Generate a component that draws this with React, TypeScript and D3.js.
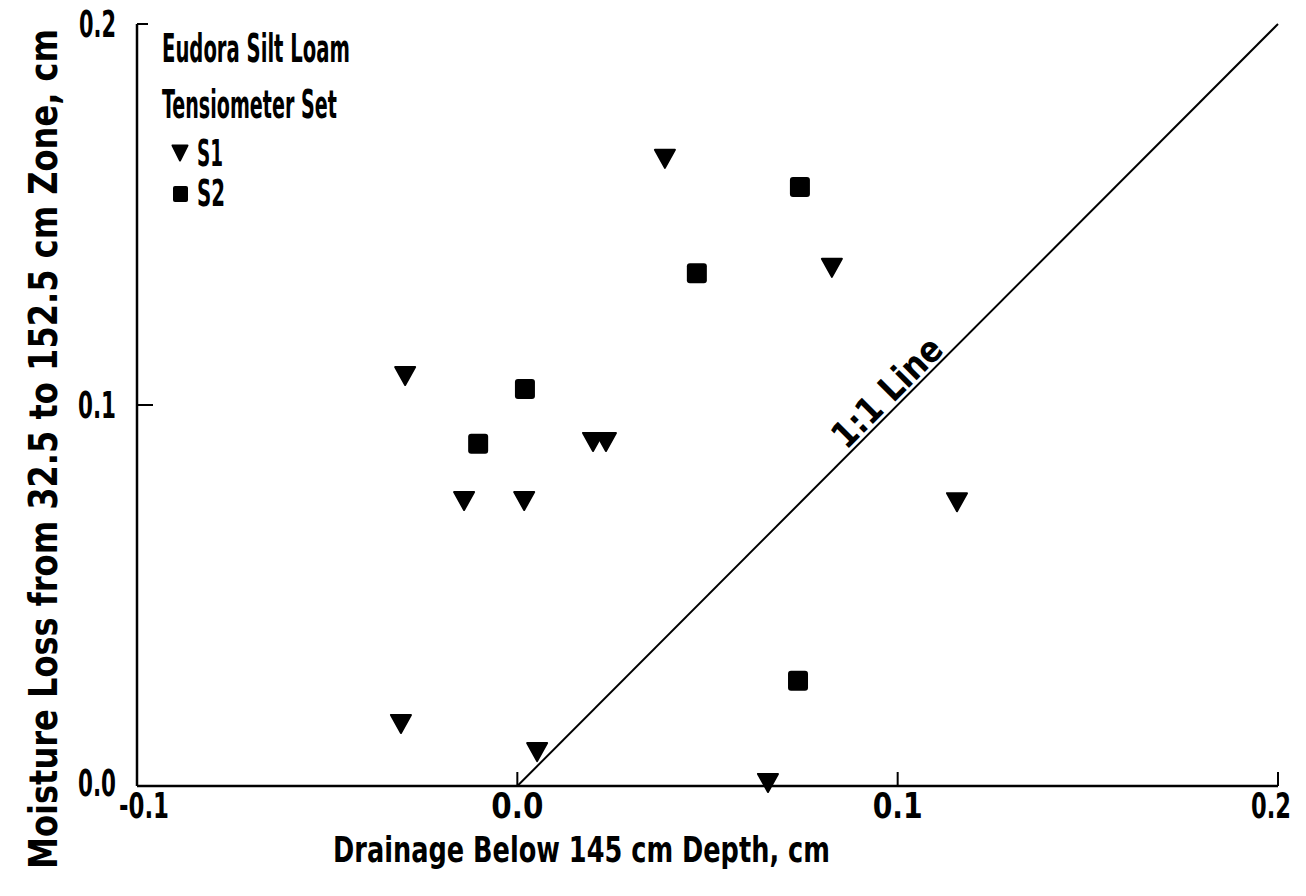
import React, { useLayoutEffect, useRef, useState } from 'react';
import * as d3 from 'd3';

// Data
const s1X = [0.0388, 0.0827, -0.0295, -0.014, 0.0018, 0.0199, 0.0233, 0.1156, -0.0306, 0.0052, 0.0659];
const s1Y = [0.1646, 0.136, 0.1076, 0.0748, 0.0748, 0.0903, 0.0903, 0.0745, 0.0163, 0.0089, 0.0008];
const s2X = [0.0743, 0.0472, 0.002, -0.0103, 0.0738];
const s2Y = [0.1572, 0.1346, 0.1042, 0.0898, 0.0276];
const xTicks = [-0.1, 0.0, 0.1, 0.2];
const xTickLabels = ['-0.1', '0.0', '0.1', '0.2'];
const yTicks = [0.0, 0.1, 0.2];
const yTickLabels = ['0.0', '0.1', '0.2'];
const lineX = [0, 0.2];
const lineY = [0, 0.2];
const legendTitle = ['Eudora Silt Loam', 'Tensiometer Set'];
const seriesNames = ['S1', 'S2'];
const xTitle = 'Drainage Below 145 cm Depth, cm';
const yTitle = 'Moisture Loss from 32.5 to 152.5 cm Zone, cm';
const lineLabel = '1:1 Line';

const W = 1306;
const H = 896;
const FONT = "'DejaVu Sans Condensed', 'DejaVu Sans', 'Liberation Sans', sans-serif";

type FitProps = {
  x: number;
  y: number;
  width: number;
  fontSize: number;
  anchor?: 'start' | 'middle' | 'end';
  rotate?: number;
  children: string;
};

// Text squeezed horizontally to a given width (mimics the condensed typewriter face)
function FitText({ x, y, width, fontSize, anchor = 'start', rotate = 0, children }: FitProps) {
  const ref = useRef<SVGTextElement>(null);
  const [sx, setSx] = useState(0.6);
  useLayoutEffect(() => {
    if (ref.current) {
      const n = ref.current.getComputedTextLength();
      if (n > 0) setSx(width / n);
    }
  }, [width, fontSize, children]);
  return (
    <text
      ref={ref}
      transform={`translate(${x},${y}) rotate(${rotate}) scale(${sx},1)`}
      fontSize={fontSize}
      textAnchor={anchor}
      fontFamily={FONT}
      fontWeight={700}
      fill="#000"
    >
      {children}
    </text>
  );
}

export default function App() {
  const x = d3.scaleLinear().domain([-0.1, 0.2]).range([137, 1278]);
  const y = d3.scaleLinear().domain([0, 0.2]).range([786, 24]);

  const tri = (w: number, h: number) => `M${-w / 2},${-h / 2}L${w / 2},${-h / 2}L0,${h / 2}Z`;
  const line = d3.line<number>().x((_, i) => x(lineX[i])).y((_, i) => y(lineY[i]));

  const labelX = x(0.1) - 2;
  const labelY = y(0.1) - 4;

  const xTickW = [50, 52, 50, 40];
  const xTickCx = [x(-0.1) + 7, x(0), x(0.1), x(0.2) - 7];
  const yTickW = [38, 38, 37];

  return (
    <div style={{ position: 'absolute', left: 0, top: 0 }}>
      <svg width={W} height={H} viewBox={`0 0 ${W} ${H}`} style={{ display: 'block', background: '#fff' }}>
        <rect x={0} y={0} width={W} height={H} fill="#fff" />
        {/* axes */}
        <line x1={x(-0.1)} y1={y(0)} x2={x(0.2)} y2={y(0)} stroke="#000" strokeWidth={2.5} />
        <line x1={x(-0.1)} y1={y(0)} x2={x(-0.1)} y2={y(0.2)} stroke="#000" strokeWidth={2.5} />
        {/* x ticks (upward) */}
        {xTicks.slice(1).map((t) => (
          <line key={'xt' + t} x1={x(t)} x2={x(t)} y1={y(0)} y2={y(0) - 14} stroke="#000" strokeWidth={2} />
        ))}
        {/* y ticks (rightward) */}
        {yTicks.slice(1).map((t) => (
          <line key={'yt' + t} x1={x(-0.1)} x2={x(-0.1) + (t === 0.2 ? 11 : 16)} y1={y(t)} y2={y(t)} stroke="#000" strokeWidth={2} />
        ))}
        {/* x tick labels */}
        {xTicks.map((t, i) => (
          <FitText key={'xl' + t} x={xTickCx[i]} y={818} width={xTickW[i]} fontSize={36} anchor="middle">
            {xTickLabels[i]}
          </FitText>
        ))}
        {/* y tick labels */}
        {yTicks.map((t, i) => (
          <FitText key={'yl' + t} x={116} y={i === 0 ? y(t) + 10 : y(t) + 13} width={yTickW[i]} fontSize={37} anchor="end">
            {yTickLabels[i]}
          </FitText>
        ))}
        {/* axis titles */}
        <FitText x={333} y={862} width={497} fontSize={36}>{xTitle}</FitText>
        <FitText x={57} y={449} width={840} fontSize={39} anchor="middle" rotate={-90}>{yTitle}</FitText>
        {/* 1:1 line */}
        <path d={line(lineX) || ''} fill="none" stroke="#000" strokeWidth={2} />
        <FitText x={labelX} y={labelY} width={140} fontSize={36} anchor="middle" rotate={-45}>{lineLabel}</FitText>
        {/* S1 triangles */}
        {s1X.map((v, i) => (
          <path key={'s1' + i} d={tri(20, 18)} transform={`translate(${x(v)},${y(s1Y[i])})`} fill="#000" stroke="#000" strokeWidth={2} strokeLinejoin="round" />
        ))}
        {/* S2 squares */}
        {s2X.map((v, i) => (
          <rect key={'s2' + i} x={x(v) - 10} y={y(s2Y[i]) - 10} width={20} height={20} rx={3} fill="#000" />
        ))}
        {/* legend */}
        <FitText x={162} y={62} width={188} fontSize={39}>{legendTitle[0]}</FitText>
        <FitText x={162} y={118} width={175} fontSize={39}>{legendTitle[1]}</FitText>
        <path d={tri(15, 15)} transform="translate(180,153)" fill="#000" stroke="#000" strokeWidth={2} strokeLinejoin="round" />
        <FitText x={197} y={166} width={26} fontSize={37}>{seriesNames[0]}</FitText>
        <rect x={173} y={186} width={15} height={16} rx={2} fill="#000" />
        <FitText x={197} y={206} width={28} fontSize={37}>{seriesNames[1]}</FitText>
      </svg>
    </div>
  );
}
